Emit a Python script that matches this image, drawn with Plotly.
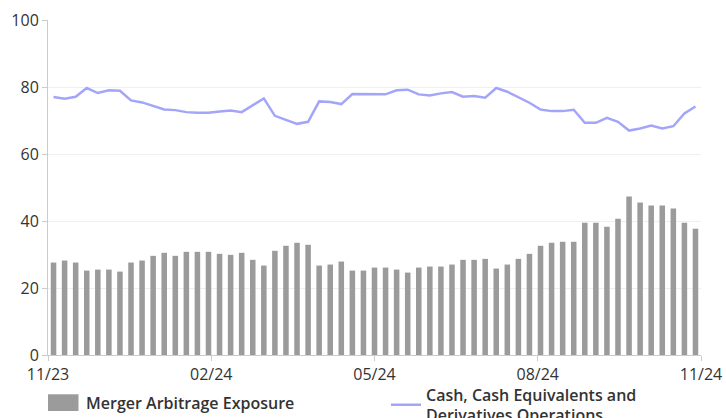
import plotly.graph_objects as go

merger_arb = [27.6, 28.2, 27.6, 25.2, 25.5, 25.5, 24.9, 27.6, 28.2, 29.6,
              30.5, 29.6, 30.8, 30.8, 30.8, 30.2, 29.9, 30.5, 28.4, 26.7,
              31.1, 32.6, 33.5, 32.9, 26.7, 27.0, 27.9, 25.2, 25.2, 26.1,
              26.1, 25.5, 24.6, 26.1, 26.4, 26.4, 27.0, 28.4, 28.4, 28.7,
              25.8, 27.0, 28.7, 30.2, 32.6, 33.5, 33.8, 33.8, 39.5, 39.5,
              38.3, 40.7, 47.3, 45.5, 44.6, 44.6, 43.7, 39.5, 37.7]
cash_ops = [77.0, 76.5, 77.1, 79.7, 78.2, 79.0, 78.9, 76.0, 75.4, 74.3,
            73.3, 73.1, 72.5, 72.3, 72.3, 72.7, 73.0, 72.5, 74.6, 76.6,
            71.4, 70.1, 69.0, 69.6, 75.7, 75.5, 74.9, 77.9, 77.8, 77.8,
            77.8, 79.0, 79.2, 77.8, 77.5, 78.1, 78.5, 77.1, 77.3, 76.8,
            79.7, 78.6, 76.9, 75.3, 73.3, 72.8, 72.8, 73.2, 69.3, 69.3,
            70.8, 69.6, 67.0, 67.6, 68.5, 67.6, 68.3, 72.1, 74.2]
tick_labels = ["11/23", "02/24", "05/24", "08/24", "11/24"]
series_names = ["Merger Arbitrage Exposure",
                "Cash, Cash Equivalents and<br>Derivatives Operations"]
y_ticks = [0, 20, 40, 60, 80, 100]

n = len(merger_arb)
x = list(range(n))
lo, hi = -0.5, n - 0.5
step = (hi - lo) / (len(tick_labels) - 1)
tick_vals = [lo + i * step for i in range(len(tick_labels))]

FONT = "Open Sans"
TXT = "#333333"
BAR_COLOR = "#9b9b9b"
LINE_COLOR = "#a3a6f8"

fig = go.Figure()
fig.add_trace(go.Bar(
    x=x, y=merger_arb, name=series_names[0],
    marker=dict(color=BAR_COLOR, line=dict(width=0)),
    width=0.5, legend="legend",
))
fig.add_trace(go.Scatter(
    x=x, y=cash_ops, name=series_names[1], mode="lines",
    line=dict(color=LINE_COLOR, width=2.5), legend="legend2",
))

legend_common = dict(
    orientation="h", yanchor="middle",
    font=dict(family=FONT, size=16, color=TXT, weight=600),
    valign="middle", bgcolor="rgba(0,0,0,0)", borderwidth=0,
)

# wider legend key for the bar series (sits behind the default small key)
fig.add_shape(
    type="rect", xref="paper", yref="paper",
    x0=0.0, x1=0.0467, y0=-0.1672, y1=-0.1173,
    fillcolor=BAR_COLOR, line=dict(width=0), layer="above",
)

fig.update_layout(
    width=726, height=418,
    margin=dict(l=48, r=25, t=20, b=63, autoexpand=False),
    paper_bgcolor="white", plot_bgcolor="white",
    font=dict(family=FONT, size=16, color=TXT),
    showlegend=True,
    legend=dict(x=-0.003, xanchor="left", y=-0.143, **legend_common),
    legend2=dict(x=0.5176, xanchor="left", y=-0.149, **legend_common),
    bargap=0.5,
)
fig.update_xaxes(
    range=[lo, hi], tickmode="array", tickvals=tick_vals, ticktext=tick_labels,
    showgrid=False, zeroline=False,
    showline=True, linecolor="#cccccc", linewidth=1,
    ticks="outside", ticklen=5, tickcolor="#cccccc",
    tickfont=dict(size=16, color=TXT),
    fixedrange=True,
)
fig.update_yaxes(
    range=[0, 100], tickmode="array", tickvals=y_ticks,
    showgrid=True, gridcolor="#efefef", gridwidth=1, zeroline=False,
    showline=True, linecolor="#cccccc", linewidth=1,
    ticks="outside", ticklen=5, tickcolor="#cccccc",
    tickfont=dict(size=16, color=TXT),
    fixedrange=True,
)

fig.write_html(
    "out.html",
    config={"displayModeBar": False},
    post_script="document.body.style.margin='0';document.body.style.overflow='hidden';",
)
